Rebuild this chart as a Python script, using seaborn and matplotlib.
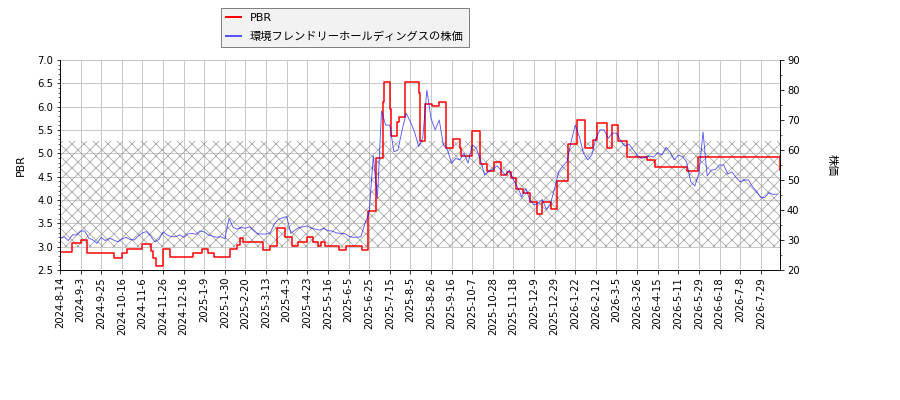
import numpy as np
import matplotlib
matplotlib.use('Agg')
import matplotlib.pyplot as plt
import seaborn as sns
from matplotlib.lines import Line2D
from matplotlib.ticker import MultipleLocator

# date labels under the x axis, one every 15 trading days
tick_labels = ['2024-8-14', '2024-9-3', '2024-9-25', '2024-10-16', '2024-11-6', '2024-11-26',
               '2024-12-16', '2025-1-9', '2025-1-30', '2025-2-20', '2025-3-13', '2025-4-3',
               '2025-4-23', '2025-5-16', '2025-6-5', '2025-6-25', '2025-7-15', '2025-8-5',
               '2025-8-26', '2025-9-16', '2025-10-7', '2025-10-28', '2025-11-18', '2025-12-9',
               '2025-12-29', '2026-1-22', '2026-2-12', '2026-3-5', '2026-3-26', '2026-4-15',
               '2026-5-11', '2026-5-29', '2026-6-18', '2026-7-8', '2026-7-29']
tick_every = 15
n_days = 525

# PBR changes only at these rows (step line)
pbr_idx = [0, 9, 15, 20, 39, 45, 49, 60, 66, 68, 70, 75, 80, 97, 103, 108, 112, 124, 129, 131,
           133, 148, 153, 158, 164, 169, 173, 180, 184, 188, 190, 193, 203, 208, 220, 224, 230, 235, 236, 240,
           241, 245, 247, 251, 261, 262, 266, 271, 276, 281, 286, 291, 292, 300, 306, 311, 316, 321, 325, 328,
           332, 337, 342, 347, 351, 357, 362, 370, 376, 382, 388, 391, 398, 402, 406, 413, 427, 433, 456, 464,
           524]
pbr_vals = [2.89, 3.08, 3.14, 2.87, 2.76, 2.87, 2.95, 3.06, 2.90, 2.75, 2.58, 2.95, 2.78, 2.87, 2.94, 2.87, 2.78, 2.94, 3.04, 3.19,
            3.09, 2.93, 3.01, 3.39, 3.21, 3.02, 3.09, 3.20, 3.09, 3.02, 3.09, 3.02, 2.92, 3.02, 2.92, 3.77, 4.89, 6.10, 6.52, 5.96,
            5.38, 5.68, 5.77, 6.52, 6.29, 5.26, 6.05, 6.01, 6.09, 5.11, 5.30, 5.11, 4.94, 5.47, 4.77, 4.62, 4.81, 4.54, 4.60, 4.47,
            4.24, 4.14, 3.96, 3.70, 3.96, 3.80, 4.41, 5.19, 5.72, 5.11, 5.28, 5.65, 5.11, 5.60, 5.27, 4.93, 4.86, 4.70, 4.62, 4.93,
            4.64]

# share price, read every 3rd row
price_step = 3
price_vals = [30.6, 31.1, 29.8, 31.7, 31.7, 33.0, 33.0, 30.6, 30.0, 28.9,
              30.9, 29.8, 30.6, 30.0, 29.4, 30.3, 30.9, 30.2, 30.0, 31.3,
              32.4, 32.8, 31.3, 29.4, 30.2, 32.7, 31.7, 31.1, 31.1, 31.7,
              30.9, 32.0, 32.2, 31.9, 33.0, 32.7, 31.7, 31.3, 30.9, 31.1,
              30.4, 37.2, 34.2, 33.6, 34.2, 33.9, 34.4, 33.1, 32.0, 32.0,
              32.0, 32.4, 35.3, 36.9, 37.4, 37.8, 32.2, 33.3, 34.2, 34.4,
              34.7, 33.9, 33.6, 33.3, 33.9, 33.1, 33.0, 32.4, 32.2, 32.2,
              31.3, 30.9, 30.9, 31.1, 35.6, 39.0, 58.0, 44.0, 73.0, 68.3,
              68.3, 59.4, 60.0, 66.7, 72.2, 69.4, 66.1, 61.1, 64.0, 80.0,
              70.6, 66.7, 70.0, 61.7, 60.0, 55.6, 57.2, 56.7, 58.9, 55.6,
              61.7, 60.6, 56.7, 51.7, 52.8, 53.6, 54.7, 53.3, 51.7, 53.3,
              50.0, 47.6, 44.4, 47.2, 43.3, 41.7, 42.2, 43.5, 40.2, 42.2,
              47.2, 52.8, 54.7, 56.1, 62.8, 68.3, 64.4, 58.9, 56.7, 58.3,
              63.9, 66.7, 66.7, 63.9, 65.6, 65.6, 63.1, 61.3, 62.0, 60.2,
              58.3, 57.2, 57.6, 58.0, 57.6, 59.1, 58.3, 60.9, 59.4, 56.7,
              58.3, 57.8, 56.1, 49.4, 48.0, 52.2, 66.0, 51.3, 53.3, 53.5,
              55.0, 55.0, 52.0, 52.7, 50.9, 49.4, 50.0, 50.0, 47.8, 46.1,
              44.2, 44.2, 45.8, 45.2, 45.3]

band_low, band_high = 3.0, 5.26

plt.rcParams['font.family'] = ['DejaVu Sans', 'Noto Sans CJK JP']
plt.rcParams['font.size'] = 10
plt.rcParams['hatch.color'] = '#a8a8a8'
plt.rcParams['hatch.linewidth'] = 0.8

fig = plt.figure(figsize=(900 / 72, 400 / 72), dpi=72)
ax = fig.add_axes([60 / 900, 130 / 400, 720 / 900, 210 / 400])
ax2 = ax.twinx()

ax.axhspan(band_low, band_high, facecolor='none', edgecolor='#a8a8a8', hatch='xx', lw=0)

sns.lineplot(x=pbr_idx, y=pbr_vals, ax=ax, color='red', lw=1.5, drawstyle='steps-post')
price_x = np.arange(len(price_vals)) * price_step
sns.lineplot(x=price_x, y=price_vals, ax=ax2, color='blue', alpha=0.65, lw=0.9)

ax.set_xlim(0, n_days - 1)
ax.set_ylim(2.5, 7.0)
ax2.set_ylim(20, 90)
ax.yaxis.set_major_locator(MultipleLocator(0.5))
ax.yaxis.set_minor_locator(MultipleLocator(0.1))
ax2.yaxis.set_major_locator(MultipleLocator(10))
ax2.yaxis.set_minor_locator(MultipleLocator(5))
ax.set_xticks(np.arange(len(tick_labels)) * tick_every)
ax.set_xticklabels(tick_labels, rotation=90)

ax.grid(True, color='#c8c8c8', lw=1)
ax.set_axisbelow(True)
for a in (ax, ax2):
    a.spines['top'].set_visible(False)

ax.set_ylabel('PBR', fontsize=11, labelpad=11)
ax2.set_ylabel('株価', rotation=270, va='bottom', labelpad=27, fontsize=11)

handles = [Line2D([], [], color='red', lw=2),
           Line2D([], [], color='blue', alpha=0.65, lw=2)]
fig.legend(handles, ['PBR', '環境フレンドリーホールディングスの株価'],
           loc='upper left', bbox_to_anchor=(221 / 900, 1 - 8 / 400), borderaxespad=0,
           fontsize=11.3, handlelength=1.3, handletextpad=0.8, labelspacing=0.75,
           borderpad=0.45, fancybox=False, edgecolor='gray', facecolor='#f2f2f2', framealpha=1)

fig.savefig('out.png', dpi=72)
